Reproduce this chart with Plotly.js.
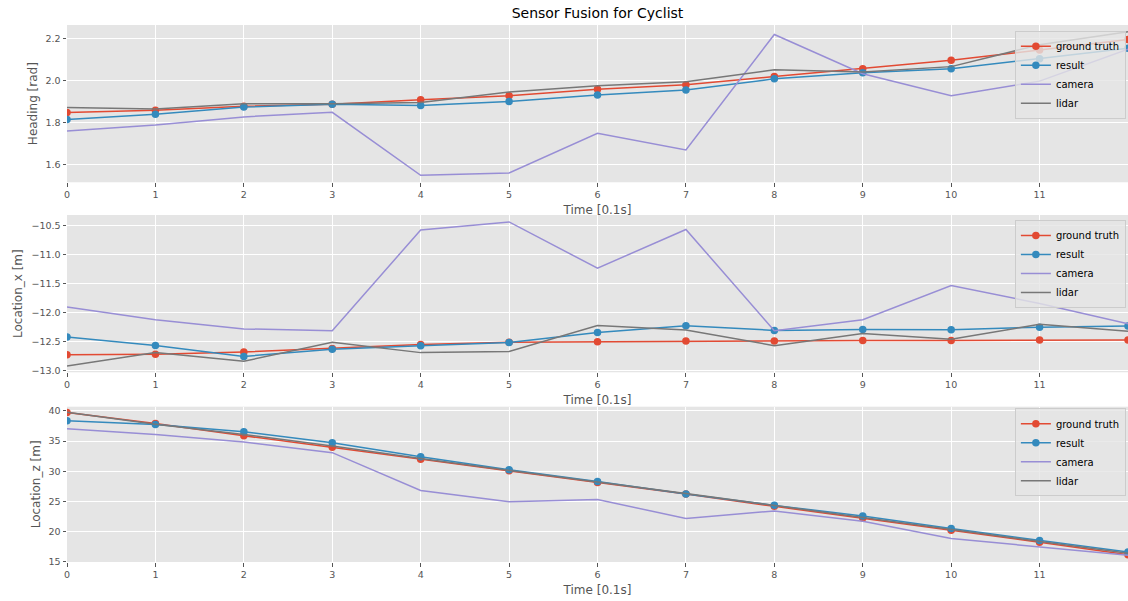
<!DOCTYPE html>
<html>
<head>
<meta charset="utf-8">
<script src="https://cdn.plot.ly/plotly-3.0.1.min.js"></script>
<style>html,body{margin:0;padding:0;background:#fff;}#chart{width:1128px;height:601px;}</style>
</head>
<body>
<div id="chart"></div>
<script>
// Time steps [0.1s]
const time = [0, 1, 2, 3, 4, 5, 6, 7, 8, 9, 10, 11, 12];
const seriesNames = ["ground truth", "result", "camera", "lidar"];

// Heading [rad]
const headingGroundTruth = [1.849, 1.860, 1.879, 1.888, 1.910, 1.929, 1.959, 1.981, 2.020, 2.057, 2.097, 2.146, 2.196];
const headingResult      = [1.816, 1.841, 1.875, 1.888, 1.882, 1.901, 1.932, 1.956, 2.009, 2.038, 2.057, 2.104, 2.154];
const headingCamera      = [1.761, 1.789, 1.828, 1.850, 1.550, 1.561, 1.750, 1.671, 2.220, 2.033, 1.929, 1.998, 2.150];
const headingLidar       = [1.873, 1.865, 1.891, 1.891, 1.896, 1.946, 1.976, 1.995, 2.052, 2.042, 2.067, 2.171, 2.233];

// Location_x [m]
const locXGroundTruth = [-12.727, -12.72, -12.68, -12.62, -12.55, -12.51, -12.50, -12.49, -12.49, -12.48, -12.48, -12.47, -12.47];
const locXResult      = [-12.42, -12.566, -12.756, -12.63, -12.57, -12.514, -12.34, -12.225, -12.306, -12.29, -12.295, -12.25, -12.23];
const locXCamera      = [-11.90, -12.12, -12.28, -12.31, -10.57, -10.43, -11.23, -10.56, -12.31, -12.12, -11.53, -11.84, -12.19];
const locXLidar       = [-12.92, -12.69, -12.84, -12.51, -12.69, -12.67, -12.22, -12.30, -12.57, -12.36, -12.46, -12.20, -12.32];

// Location_z [m]
const locZGroundTruth = [39.73, 37.92, 35.88, 33.96, 31.98, 30.06, 28.14, 26.21, 24.18, 22.26, 20.22, 18.24, 16.17];
const locZResult      = [38.35, 37.75, 36.54, 34.73, 32.42, 30.23, 28.30, 26.21, 24.34, 22.59, 20.50, 18.52, 16.60];
const locZCamera      = [37.03, 36.10, 34.84, 33.08, 26.81, 24.95, 25.33, 22.15, 23.41, 21.71, 18.85, 17.42, 16.05];
const locZLidar       = [39.80, 37.80, 36.10, 34.20, 32.10, 30.10, 28.20, 26.30, 24.30, 22.40, 20.30, 18.40, 16.40];

const xTickVals = [0, 1, 2, 3, 4, 5, 6, 7, 8, 9, 10, 11];

const colors = ["#E24A33", "#348ABD", "#988ED5", "#777777"];
const FONT = "DejaVu Sans, sans-serif";

function makeTraces(values, axisIdx) {
  const xa = axisIdx === 1 ? "x" : "x" + axisIdx;
  const ya = axisIdx === 1 ? "y" : "y" + axisIdx;
  const lg = axisIdx === 1 ? "legend" : "legend" + axisIdx;
  return values.map((v, i) => ({
    x: time, y: v, name: seriesNames[i],
    type: "scatter",
    mode: i < 2 ? "lines+markers" : "lines",
    line: {color: colors[i], width: 1.5},
    marker: {color: colors[i], size: 7.5},
    xaxis: xa, yaxis: ya, legend: lg,
    cliponaxis: true
  }));
}

const data = [].concat(
  makeTraces([headingGroundTruth, headingResult, headingCamera, headingLidar], 1),
  makeTraces([locXGroundTruth, locXResult, locXCamera, locXLidar], 2),
  makeTraces([locZGroundTruth, locZResult, locZCamera, locZLidar], 3)
);

function xAxis(anchor) {
  return {
    anchor: anchor, range: [0, 12], tickvals: xTickVals,
    showgrid: true, gridcolor: "#ffffff", gridwidth: 1,
    zeroline: false, showline: false,
    ticks: "outside", ticklen: 3.5, tickwidth: 1, tickcolor: "#555555",
    tickfont: {family: FONT, size: 9.5, color: "#555555"},
    title: {text: "Time [0.1s]", font: {family: FONT, size: 12, color: "#555555"}, standoff: 6},
    automargin: false
  };
}
function yAxis(anchor, domain, range, tickvals, fmt, title, standoff) {
  return {
    anchor: anchor, domain: domain, range: range, tickvals: tickvals, tickformat: fmt,
    showgrid: true, gridcolor: "#ffffff", gridwidth: 1,
    zeroline: false, showline: false,
    ticks: "outside", ticklen: 3.5, tickwidth: 1, tickcolor: "#555555",
    tickfont: {family: FONT, size: 9.5, color: "#555555"},
    title: {text: title, font: {family: FONT, size: 12, color: "#555555"}, standoff: standoff},
    automargin: false
  };
}
function legendAt(y) {
  return {
    x: 0.998, y: y, xanchor: "right", yanchor: "top", xref: "paper", yref: "paper",
    bgcolor: "rgba(229,229,229,0.8)", bordercolor: "#cccccc", borderwidth: 1,
    font: {family: FONT, size: 10, color: "#000000"},
    itemwidth: 30, tracegroupgap: 0
  };
}

const layout = {
  width: 1128, height: 601,
  margin: {l: 67, r: 0, t: 25, b: 39},
  paper_bgcolor: "#ffffff", plot_bgcolor: "#E5E5E5",
  font: {family: FONT, color: "#555555"},
  title: {text: "Sensor Fusion for Cyclist", font: {family: FONT, size: 14, color: "#000000"},
          xref: "paper", x: 0.5, xanchor: "center", yref: "container", y: 0.978, yanchor: "middle"},
  showlegend: true,
  xaxis: xAxis("y"),
  xaxis2: xAxis("y2"),
  xaxis3: xAxis("y3"),
  yaxis: yAxis("x", [0.7071, 1], [1.517, 2.265], [1.6, 1.8, 2.0, 2.2], ".1f", "Heading [rad]", 5),
  yaxis2: yAxis("x2", [0.3533, 0.6462], [-13.03, -10.31], [-13.0, -12.5, -12.0, -11.5, -11.0, -10.5], ".1f", "Location_x [m]", 6),
  yaxis3: yAxis("x3", [0, 0.2892], [14.95, 40.7], [15, 20, 25, 30, 35, 40], "d", "Location_z [m]", 5),
  legend: legendAt(0.9894),
  legend2: legendAt(0.6369),
  legend3: legendAt(0.2862)
};

Plotly.newPlot("chart", data, layout, {displayModeBar: false, staticPlot: true});
</script>
</body>
</html>
